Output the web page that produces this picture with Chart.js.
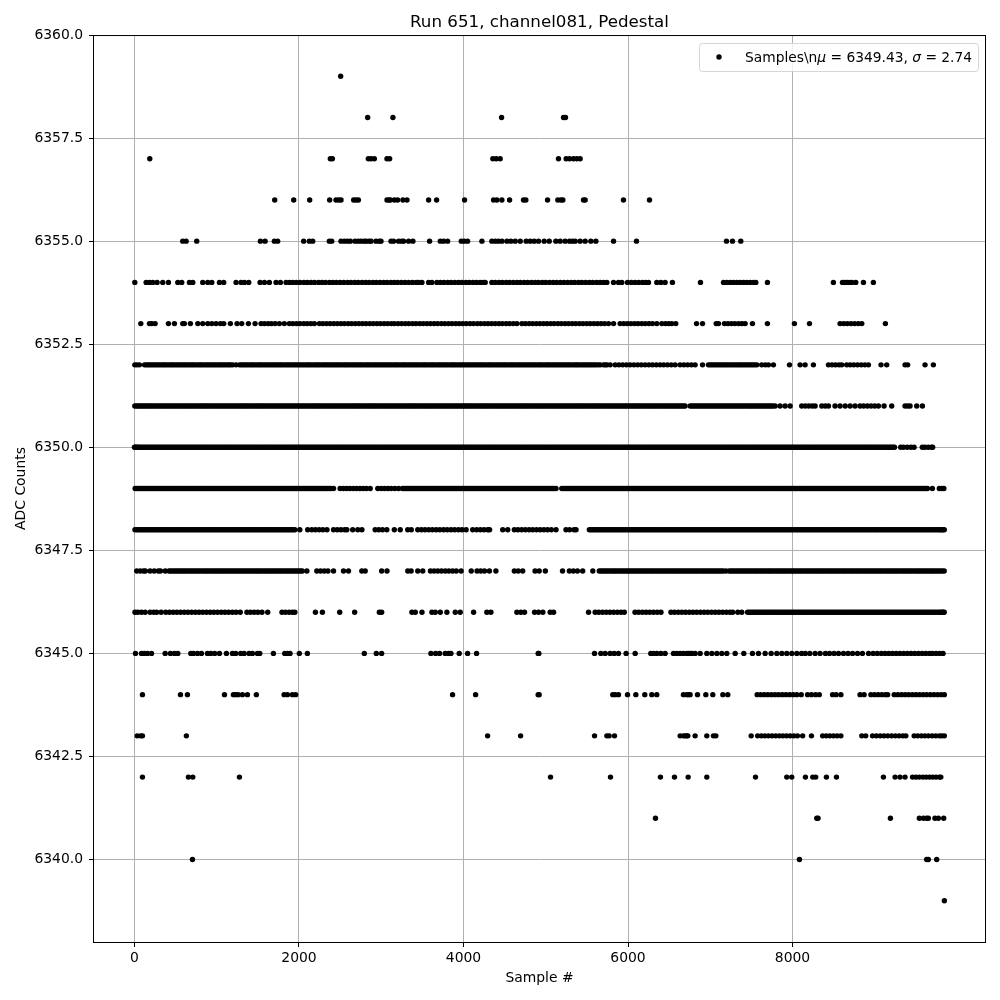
<!DOCTYPE html>
<html>
<head>
<meta charset="utf-8">
<title>Run 651, channel081, Pedestal</title>
<script src="https://cdn.jsdelivr.net/npm/chart.js@4"></script>
<style>
  body { margin: 0; background: #fff; }
  canvas { display: block; }
</style>
</head>
<body>
<canvas id="graphic" width="1000" height="1000"></canvas>
<script>
const xTicks = [0, 2000, 4000, 6000, 8000];
const yTicks = [6340, 6342.5, 6345, 6347.5, 6350, 6352.5, 6355, 6357.5, 6360];

// sample numbers, one list per ADC level
// single marks are read one by one, solid stretches are only estimated to cover them
const adc6359 = [2507];
const adc6358 = [2835, 3142, 4463, 5216, 5240];
const adc6357 = [186, 2381, 2406, 2843, 2876, 2916, 3070, 3102, 4357, 4398, 4446, 5155, 5248, 5289, 5337, 5378, 5418];
const adc6356 = [1705, 1936, 2130, 2373, 2450, 2483, 2511, 2665, 2693, 2722, 3070, 3094, 3110, 3159, 3199, 3264, 3313, 3576, 3673, 4013, 4366, 4406, 4467, 4560, 4730, 4758, 5022, 5147, 5184, 5208, 5459, 5479, 5945, 6261];
const adc6355 = [587, 628, 757, 1531, 1588, 1701, 1741, 2057, 2126, 2167, 2369, 2398, 2511, 2552, 2590, 2624, 2681, 2720, 2754, 2790, 2815, 2850, 2876, 2936, 2975, 2997, 3119, 3150, 3211, 3250, 3272, 3333, 3385, 3588, 3718, 3758, 3807, 3973, 4009, 4050, 4224, 4345, 4386, 4426, 4467, 4528, 4576, 4629, 4690, 4762, 4811, 4860, 4912, 4981, 5042, 5123, 5176, 5236, 5289, 5325, 5358, 5418, 5479, 5548, 5609, 5824, 6103, 7197, 7270, 7371];
const adc6354 = [4, 142, 182, 223, 275, 344, 413, 527, 575, 668, 709, 830, 891, 940, 1033, 1085, 1235, 1296, 1337, 1389, 1527, 1580, 1640, 1721, 1774, 1843, 1885, 1925, 1968, 2012, 2060, 2102, 2147, 2190, 2238, 2280, 2322, 2370, 2412, 2455, 2500, 2544, 2590, 2632, 2678, 2720, 2766, 2810, 2852, 2898, 2940, 2985, 3030, 3072, 3118, 3159, 3200, 3245, 3290, 3335, 3380, 3425, 3454, 3495, 3576, 3616, 3677, 3720, 3762, 3808, 3850, 3895, 3940, 3982, 4028, 4070, 4115, 4158, 4202, 4240, 4264, 4345, 4385, 4430, 4472, 4518, 4560, 4605, 4650, 4692, 4738, 4780, 4825, 4870, 4912, 4958, 5000, 5045, 5090, 5132, 5178, 5220, 5265, 5310, 5352, 5398, 5440, 5485, 5530, 5572, 5618, 5660, 5702, 5743, 5824, 5884, 5925, 5994, 6040, 6085, 6130, 6175, 6215, 6249, 6350, 6399, 6451, 6540, 6881, 7161, 7201, 7242, 7282, 7323, 7363, 7404, 7444, 7485, 7525, 7554, 7695, 8497, 8607, 8638, 8666, 8695, 8722, 8769, 8862, 8983];
const adc6353 = [77, 182, 211, 251, 413, 486, 587, 607, 680, 770, 830, 891, 940, 992, 1045, 1085, 1166, 1247, 1304, 1385, 1466, 1539, 1580, 1625, 1665, 1710, 1762, 1822, 1883, 1925, 1970, 2012, 2058, 2100, 2145, 2187, 2248, 2290, 2335, 2378, 2422, 2465, 2510, 2552, 2598, 2640, 2685, 2728, 2772, 2815, 2860, 2902, 2948, 2990, 3035, 3078, 3122, 3159, 3205, 3248, 3292, 3335, 3380, 3422, 3468, 3510, 3555, 3598, 3642, 3685, 3730, 3772, 3818, 3860, 3905, 3948, 3992, 4035, 4080, 4122, 4168, 4210, 4255, 4298, 4342, 4385, 4430, 4472, 4518, 4560, 4605, 4649, 4710, 4752, 4798, 4840, 4885, 4928, 4972, 5015, 5060, 5102, 5148, 5190, 5235, 5278, 5322, 5365, 5410, 5452, 5498, 5540, 5585, 5628, 5672, 5715, 5763, 5824, 5904, 5948, 5992, 6035, 6080, 6122, 6168, 6210, 6255, 6298, 6350, 6411, 6455, 6495, 6532, 6581, 6833, 6906, 7072, 7100, 7173, 7215, 7258, 7300, 7345, 7385, 7424, 7513, 7695, 8023, 8206, 8578, 8622, 8665, 8710, 8755, 8800, 8842, 9129];
const adc6352 = [4, 30, 60, 122, 144, 165, 187, 208, 230, 252, 274, 295, 318, 340, 361, 382, 405, 428, 449, 470, 492, 515, 537, 558, 580, 602, 624, 645, 668, 690, 711, 732, 755, 778, 799, 820, 842, 865, 887, 908, 930, 952, 974, 995, 1018, 1040, 1061, 1082, 1105, 1128, 1149, 1170, 1195, 1235, 1278, 1300, 1322, 1344, 1365, 1388, 1410, 1431, 1452, 1475, 1498, 1519, 1540, 1562, 1585, 1607, 1628, 1650, 1672, 1694, 1715, 1738, 1760, 1781, 1802, 1825, 1848, 1869, 1890, 1912, 1935, 1957, 1978, 2000, 2022, 2044, 2065, 2088, 2110, 2131, 2152, 2175, 2198, 2219, 2240, 2262, 2285, 2307, 2328, 2350, 2372, 2394, 2415, 2438, 2460, 2481, 2502, 2525, 2548, 2569, 2590, 2612, 2635, 2657, 2678, 2700, 2722, 2744, 2765, 2788, 2810, 2831, 2852, 2875, 2898, 2919, 2940, 2962, 2985, 3007, 3028, 3050, 3072, 3094, 3115, 3137, 3159, 3180, 3202, 3225, 3248, 3269, 3290, 3312, 3335, 3357, 3378, 3400, 3422, 3444, 3465, 3488, 3510, 3531, 3552, 3575, 3598, 3619, 3640, 3662, 3685, 3707, 3728, 3750, 3772, 3794, 3815, 3838, 3860, 3881, 3902, 3925, 3948, 3969, 3990, 4012, 4035, 4057, 4078, 4100, 4122, 4144, 4165, 4188, 4210, 4231, 4252, 4275, 4298, 4319, 4340, 4362, 4385, 4407, 4428, 4450, 4472, 4494, 4515, 4538, 4560, 4581, 4602, 4625, 4648, 4669, 4690, 4712, 4735, 4757, 4778, 4800, 4822, 4844, 4865, 4888, 4910, 4931, 4952, 4975, 4998, 5019, 5040, 5062, 5085, 5107, 5128, 5150, 5172, 5194, 5215, 5238, 5260, 5281, 5302, 5325, 5348, 5369, 5390, 5412, 5435, 5457, 5478, 5500, 5522, 5544, 5565, 5588, 5610, 5636, 5662, 5702, 5724, 5745, 5783, 5844, 5890, 5936, 5982, 6026, 6072, 6118, 6162, 6208, 6254, 6298, 6344, 6390, 6434, 6480, 6526, 6573, 6633, 6680, 6725, 6770, 6816, 6906, 6978, 7000, 7022, 7045, 7068, 7090, 7112, 7135, 7158, 7180, 7202, 7225, 7248, 7270, 7292, 7315, 7338, 7360, 7382, 7405, 7428, 7450, 7472, 7495, 7518, 7542, 7566, 7626, 7670, 7708, 7768, 7963, 8092, 8153, 8254, 8437, 8480, 8522, 8565, 8598, 8659, 8700, 8745, 8790, 8835, 8880, 8923, 9076, 9145, 9368, 9400, 9611, 9712];
const adc6351 = [4, 28, 48, 68, 88, 108, 129, 150, 171, 192, 213, 235, 256, 278, 299, 320, 341, 362, 383, 405, 426, 448, 469, 490, 511, 532, 553, 575, 596, 618, 639, 660, 681, 702, 723, 745, 766, 788, 809, 830, 851, 872, 893, 915, 936, 958, 979, 1000, 1021, 1042, 1063, 1085, 1106, 1128, 1149, 1170, 1191, 1212, 1233, 1255, 1276, 1298, 1319, 1340, 1361, 1382, 1403, 1425, 1446, 1468, 1489, 1510, 1531, 1552, 1573, 1595, 1616, 1638, 1659, 1680, 1701, 1722, 1743, 1765, 1786, 1808, 1829, 1850, 1871, 1892, 1913, 1935, 1956, 1978, 1999, 2020, 2041, 2062, 2083, 2105, 2126, 2148, 2169, 2190, 2211, 2232, 2253, 2275, 2296, 2318, 2339, 2360, 2381, 2402, 2423, 2445, 2466, 2488, 2509, 2530, 2551, 2572, 2593, 2615, 2636, 2658, 2679, 2700, 2721, 2742, 2763, 2785, 2806, 2828, 2849, 2870, 2891, 2912, 2933, 2955, 2976, 2998, 3019, 3040, 3061, 3082, 3103, 3125, 3146, 3168, 3189, 3210, 3231, 3252, 3273, 3295, 3316, 3338, 3359, 3380, 3401, 3422, 3443, 3465, 3486, 3508, 3529, 3550, 3571, 3592, 3613, 3635, 3656, 3678, 3699, 3720, 3741, 3762, 3783, 3805, 3826, 3848, 3869, 3890, 3911, 3932, 3953, 3975, 3996, 4018, 4039, 4060, 4081, 4102, 4123, 4145, 4166, 4188, 4209, 4230, 4251, 4272, 4293, 4315, 4336, 4358, 4379, 4400, 4421, 4442, 4463, 4485, 4506, 4528, 4549, 4570, 4591, 4612, 4633, 4655, 4676, 4698, 4719, 4740, 4761, 4782, 4803, 4825, 4846, 4868, 4889, 4910, 4931, 4952, 4973, 4995, 5016, 5038, 5059, 5080, 5101, 5122, 5143, 5165, 5186, 5208, 5229, 5250, 5271, 5292, 5313, 5335, 5356, 5378, 5399, 5420, 5441, 5462, 5483, 5505, 5526, 5548, 5569, 5590, 5611, 5632, 5653, 5675, 5696, 5718, 5739, 5760, 5781, 5802, 5823, 5845, 5866, 5888, 5909, 5930, 5951, 5972, 5993, 6015, 6036, 6058, 6079, 6100, 6121, 6142, 6163, 6185, 6206, 6228, 6249, 6270, 6291, 6312, 6333, 6355, 6376, 6398, 6419, 6440, 6461, 6482, 6503, 6525, 6546, 6568, 6589, 6610, 6631, 6652, 6673, 6694, 6756, 6778, 6800, 6822, 6845, 6866, 6888, 6910, 6932, 6953, 6975, 6997, 7020, 7041, 7062, 7085, 7108, 7129, 7150, 7172, 7195, 7216, 7238, 7260, 7282, 7303, 7325, 7347, 7370, 7391, 7412, 7435, 7458, 7479, 7500, 7522, 7545, 7566, 7588, 7610, 7632, 7653, 7675, 7697, 7720, 7741, 7762, 7789, 7849, 7910, 7971, 8112, 8155, 8198, 8240, 8275, 8356, 8398, 8437, 8517, 8578, 8640, 8700, 8760, 8821, 8865, 8910, 8955, 9000, 9044, 9113, 9206, 9368, 9400, 9429, 9510, 9579];
const adc6350 = [0, 10, 20, 34, 48, 66, 85, 103, 122, 141, 160, 179, 198, 217, 236, 255, 274, 293, 312, 331, 350, 369, 388, 407, 426, 445, 464, 483, 502, 521, 540, 559, 578, 597, 616, 635, 654, 673, 692, 711, 730, 749, 768, 787, 806, 825, 844, 863, 882, 901, 920, 939, 958, 977, 996, 1015, 1034, 1053, 1072, 1091, 1110, 1129, 1148, 1167, 1186, 1205, 1224, 1243, 1262, 1281, 1300, 1319, 1338, 1357, 1376, 1395, 1414, 1433, 1452, 1471, 1490, 1509, 1528, 1547, 1566, 1585, 1604, 1623, 1642, 1661, 1680, 1699, 1718, 1737, 1756, 1775, 1794, 1813, 1832, 1851, 1870, 1889, 1908, 1927, 1946, 1965, 1984, 2003, 2022, 2041, 2060, 2079, 2098, 2117, 2136, 2155, 2174, 2193, 2212, 2231, 2250, 2269, 2288, 2307, 2326, 2345, 2364, 2383, 2402, 2421, 2440, 2459, 2478, 2497, 2516, 2535, 2554, 2573, 2592, 2611, 2630, 2649, 2668, 2687, 2706, 2725, 2744, 2763, 2782, 2801, 2820, 2839, 2858, 2877, 2896, 2915, 2934, 2953, 2972, 2991, 3010, 3029, 3048, 3067, 3086, 3105, 3124, 3143, 3162, 3181, 3200, 3219, 3238, 3257, 3276, 3295, 3314, 3333, 3352, 3371, 3390, 3409, 3428, 3447, 3466, 3485, 3504, 3523, 3542, 3561, 3580, 3599, 3618, 3637, 3656, 3675, 3694, 3713, 3732, 3751, 3770, 3789, 3808, 3827, 3846, 3865, 3884, 3903, 3922, 3941, 3960, 3979, 3998, 4017, 4036, 4055, 4074, 4093, 4112, 4131, 4150, 4169, 4188, 4207, 4226, 4245, 4264, 4283, 4302, 4321, 4340, 4359, 4378, 4397, 4416, 4435, 4454, 4473, 4492, 4511, 4530, 4549, 4568, 4587, 4606, 4625, 4644, 4663, 4682, 4701, 4720, 4739, 4758, 4777, 4796, 4815, 4834, 4853, 4872, 4891, 4910, 4929, 4948, 4967, 4986, 5005, 5024, 5043, 5062, 5081, 5100, 5119, 5138, 5157, 5176, 5195, 5214, 5233, 5252, 5271, 5290, 5309, 5328, 5347, 5366, 5385, 5404, 5423, 5442, 5461, 5480, 5499, 5518, 5537, 5556, 5575, 5594, 5613, 5632, 5651, 5670, 5689, 5708, 5727, 5746, 5765, 5784, 5803, 5822, 5841, 5860, 5879, 5898, 5917, 5936, 5955, 5974, 5993, 6012, 6031, 6050, 6069, 6088, 6107, 6126, 6145, 6164, 6183, 6202, 6221, 6240, 6259, 6278, 6297, 6316, 6335, 6354, 6373, 6392, 6411, 6430, 6449, 6468, 6487, 6506, 6525, 6544, 6563, 6582, 6601, 6620, 6639, 6658, 6677, 6696, 6715, 6734, 6753, 6772, 6791, 6810, 6829, 6848, 6867, 6886, 6905, 6924, 6943, 6962, 6981, 7000, 7019, 7038, 7057, 7076, 7095, 7114, 7133, 7152, 7171, 7190, 7209, 7228, 7247, 7266, 7285, 7304, 7323, 7342, 7361, 7380, 7399, 7418, 7437, 7456, 7475, 7494, 7513, 7532, 7551, 7570, 7589, 7608, 7627, 7646, 7665, 7684, 7703, 7722, 7741, 7760, 7779, 7798, 7817, 7836, 7855, 7874, 7893, 7912, 7931, 7950, 7969, 7988, 8007, 8026, 8045, 8064, 8083, 8102, 8121, 8140, 8159, 8178, 8197, 8216, 8235, 8254, 8273, 8292, 8311, 8330, 8349, 8368, 8387, 8406, 8425, 8444, 8463, 8482, 8501, 8520, 8539, 8558, 8577, 8596, 8615, 8634, 8653, 8672, 8691, 8710, 8729, 8748, 8767, 8786, 8805, 8824, 8843, 8862, 8881, 8900, 8919, 8938, 8957, 8976, 8995, 9014, 9033, 9052, 9071, 9090, 9109, 9128, 9147, 9166, 9185, 9204, 9222, 9240, 9315, 9350, 9395, 9440, 9478, 9578, 9610, 9650, 9690, 9704];
const adc6349 = [8, 30, 50, 70, 90, 110, 130, 150, 170, 190, 210, 230, 250, 270, 290, 310, 330, 350, 370, 390, 410, 430, 450, 470, 490, 510, 530, 550, 570, 590, 610, 630, 650, 670, 690, 710, 730, 750, 770, 790, 810, 830, 850, 870, 890, 910, 930, 950, 970, 990, 1010, 1030, 1050, 1070, 1090, 1110, 1130, 1150, 1170, 1190, 1210, 1230, 1250, 1270, 1290, 1310, 1330, 1350, 1370, 1390, 1410, 1430, 1450, 1470, 1490, 1510, 1530, 1550, 1570, 1590, 1610, 1630, 1650, 1670, 1690, 1710, 1730, 1750, 1770, 1790, 1810, 1830, 1850, 1870, 1890, 1910, 1930, 1950, 1970, 1990, 2010, 2030, 2050, 2070, 2090, 2110, 2130, 2150, 2170, 2190, 2210, 2230, 2250, 2270, 2290, 2310, 2330, 2350, 2370, 2390, 2420, 2500, 2540, 2580, 2620, 2660, 2700, 2740, 2780, 2820, 2866, 2958, 3000, 3040, 3080, 3120, 3165, 3211, 3260, 3280, 3300, 3320, 3340, 3360, 3380, 3400, 3420, 3440, 3460, 3480, 3500, 3520, 3540, 3560, 3580, 3600, 3620, 3640, 3660, 3680, 3700, 3720, 3740, 3760, 3780, 3800, 3820, 3840, 3860, 3880, 3900, 3920, 3940, 3960, 3980, 4000, 4020, 4040, 4060, 4080, 4100, 4120, 4140, 4160, 4180, 4200, 4220, 4240, 4260, 4280, 4300, 4320, 4340, 4360, 4380, 4400, 4420, 4440, 4460, 4480, 4500, 4520, 4540, 4560, 4580, 4600, 4620, 4640, 4660, 4680, 4700, 4720, 4740, 4760, 4780, 4800, 4820, 4840, 4860, 4880, 4900, 4920, 4940, 4960, 4980, 5000, 5020, 5040, 5060, 5080, 5100, 5125, 5195, 5220, 5240, 5260, 5280, 5300, 5320, 5340, 5360, 5380, 5400, 5420, 5440, 5460, 5480, 5500, 5520, 5540, 5560, 5580, 5600, 5620, 5640, 5660, 5680, 5700, 5720, 5740, 5760, 5780, 5800, 5820, 5840, 5860, 5880, 5900, 5920, 5940, 5960, 5980, 6000, 6020, 6040, 6060, 6080, 6100, 6120, 6140, 6160, 6180, 6200, 6220, 6240, 6260, 6280, 6300, 6320, 6340, 6360, 6380, 6400, 6420, 6440, 6460, 6480, 6500, 6520, 6540, 6560, 6580, 6600, 6620, 6640, 6660, 6680, 6700, 6720, 6740, 6760, 6780, 6800, 6820, 6840, 6860, 6880, 6900, 6920, 6940, 6960, 6980, 7000, 7020, 7040, 7060, 7080, 7100, 7120, 7140, 7160, 7180, 7200, 7220, 7240, 7260, 7280, 7300, 7320, 7340, 7360, 7380, 7400, 7420, 7440, 7460, 7480, 7500, 7520, 7540, 7560, 7580, 7600, 7620, 7640, 7660, 7680, 7700, 7720, 7740, 7760, 7780, 7800, 7820, 7840, 7860, 7880, 7900, 7920, 7940, 7960, 7980, 8000, 8020, 8040, 8060, 8080, 8100, 8120, 8140, 8160, 8180, 8200, 8220, 8240, 8260, 8280, 8300, 8320, 8340, 8360, 8380, 8400, 8420, 8440, 8460, 8480, 8500, 8520, 8540, 8560, 8580, 8600, 8620, 8640, 8660, 8680, 8700, 8720, 8740, 8760, 8780, 8800, 8820, 8840, 8860, 8880, 8900, 8920, 8940, 8960, 8980, 9000, 9020, 9040, 9060, 9080, 9100, 9120, 9140, 9160, 9180, 9200, 9220, 9240, 9260, 9280, 9300, 9320, 9340, 9360, 9380, 9400, 9420, 9440, 9460, 9480, 9500, 9520, 9540, 9560, 9580, 9600, 9620, 9640, 9700, 9785, 9815, 9840];
const adc6348 = [6, 30, 50, 70, 90, 110, 130, 150, 170, 190, 210, 230, 250, 270, 290, 310, 330, 350, 370, 390, 410, 430, 450, 470, 490, 510, 530, 550, 570, 590, 610, 630, 650, 670, 690, 710, 730, 750, 770, 790, 810, 830, 850, 870, 890, 910, 930, 950, 970, 990, 1010, 1030, 1050, 1070, 1090, 1110, 1130, 1150, 1170, 1190, 1210, 1230, 1250, 1270, 1290, 1310, 1330, 1350, 1370, 1390, 1410, 1430, 1450, 1470, 1490, 1510, 1530, 1550, 1570, 1590, 1610, 1630, 1650, 1670, 1690, 1710, 1730, 1750, 1770, 1790, 1810, 1830, 1850, 1870, 1890, 1910, 1930, 1950, 2010, 2106, 2156, 2200, 2245, 2290, 2340, 2420, 2465, 2510, 2555, 2582, 2653, 2715, 2765, 2926, 2970, 3015, 3068, 3159, 3231, 3322, 3365, 3444, 3488, 3532, 3578, 3622, 3668, 3712, 3758, 3802, 3848, 3892, 3938, 3982, 4032, 4112, 4160, 4205, 4250, 4295, 4317, 4477, 4538, 4618, 4662, 4708, 4752, 4798, 4842, 4888, 4932, 4978, 5022, 5068, 5125, 5246, 5290, 5345, 5368, 5530, 5551, 5572, 5594, 5615, 5636, 5658, 5679, 5700, 5721, 5742, 5764, 5785, 5806, 5828, 5849, 5870, 5891, 5912, 5934, 5955, 5976, 5998, 6019, 6040, 6061, 6082, 6104, 6125, 6146, 6168, 6189, 6210, 6231, 6252, 6274, 6295, 6316, 6338, 6359, 6380, 6401, 6422, 6444, 6465, 6486, 6508, 6529, 6550, 6571, 6592, 6614, 6635, 6656, 6678, 6699, 6720, 6741, 6762, 6784, 6805, 6826, 6848, 6869, 6890, 6911, 6932, 6954, 6975, 6996, 7018, 7039, 7060, 7081, 7102, 7124, 7145, 7166, 7188, 7209, 7230, 7251, 7272, 7294, 7315, 7336, 7358, 7379, 7400, 7421, 7442, 7464, 7485, 7506, 7528, 7549, 7570, 7591, 7612, 7634, 7655, 7676, 7698, 7719, 7740, 7761, 7782, 7804, 7825, 7846, 7868, 7889, 7910, 7931, 7952, 7974, 7995, 8016, 8038, 8059, 8080, 8101, 8122, 8144, 8165, 8186, 8208, 8229, 8250, 8271, 8292, 8314, 8335, 8356, 8378, 8399, 8420, 8441, 8462, 8484, 8505, 8526, 8548, 8569, 8590, 8611, 8632, 8654, 8675, 8696, 8718, 8739, 8760, 8781, 8802, 8824, 8845, 8866, 8888, 8909, 8930, 8951, 8972, 8994, 9015, 9036, 9058, 9079, 9100, 9121, 9142, 9164, 9185, 9206, 9228, 9249, 9270, 9291, 9312, 9334, 9355, 9376, 9398, 9419, 9440, 9461, 9482, 9504, 9525, 9546, 9568, 9589, 9610, 9631, 9652, 9674, 9695, 9716, 9738, 9759, 9780, 9796, 9812, 9828, 9845];
const adc6347 = [28, 70, 110, 132, 190, 240, 290, 316, 374, 420, 442, 465, 488, 510, 532, 555, 578, 600, 622, 645, 668, 690, 712, 735, 758, 780, 802, 825, 848, 870, 892, 915, 938, 960, 982, 1005, 1028, 1050, 1072, 1095, 1118, 1140, 1162, 1185, 1208, 1230, 1252, 1275, 1298, 1320, 1342, 1365, 1388, 1410, 1432, 1455, 1478, 1500, 1522, 1545, 1568, 1590, 1612, 1635, 1658, 1680, 1702, 1725, 1748, 1770, 1792, 1815, 1838, 1860, 1882, 1905, 1928, 1950, 1972, 1995, 2018, 2040, 2096, 2217, 2262, 2307, 2352, 2420, 2541, 2602, 2764, 2805, 3005, 3070, 3323, 3363, 3444, 3505, 3598, 3642, 3688, 3732, 3778, 3822, 3868, 3912, 3971, 4094, 4165, 4210, 4255, 4315, 4394, 4618, 4665, 4720, 4870, 4920, 4995, 5204, 5287, 5335, 5385, 5449, 5572, 5651, 5673, 5695, 5718, 5740, 5762, 5785, 5808, 5830, 5852, 5875, 5898, 5920, 5942, 5965, 5988, 6010, 6032, 6055, 6078, 6100, 6122, 6145, 6168, 6190, 6212, 6235, 6258, 6280, 6302, 6325, 6348, 6370, 6392, 6415, 6438, 6460, 6482, 6505, 6528, 6550, 6572, 6595, 6618, 6640, 6662, 6685, 6708, 6730, 6752, 6775, 6798, 6820, 6842, 6865, 6888, 6910, 6932, 6955, 6978, 7000, 7022, 7045, 7068, 7090, 7112, 7135, 7158, 7191, 7231, 7254, 7276, 7298, 7321, 7344, 7366, 7388, 7411, 7434, 7456, 7478, 7501, 7524, 7546, 7568, 7591, 7614, 7636, 7658, 7681, 7704, 7726, 7748, 7771, 7794, 7816, 7838, 7861, 7884, 7906, 7928, 7951, 7974, 7996, 8018, 8041, 8064, 8086, 8108, 8131, 8154, 8176, 8198, 8221, 8244, 8266, 8288, 8311, 8334, 8356, 8378, 8401, 8424, 8446, 8468, 8491, 8514, 8536, 8558, 8581, 8604, 8626, 8648, 8671, 8694, 8716, 8738, 8761, 8784, 8806, 8828, 8851, 8874, 8896, 8918, 8941, 8964, 8986, 9008, 9031, 9054, 9076, 9098, 9121, 9144, 9166, 9188, 9211, 9234, 9256, 9278, 9301, 9324, 9346, 9368, 9391, 9414, 9436, 9458, 9481, 9504, 9526, 9548, 9571, 9594, 9616, 9638, 9661, 9684, 9706, 9728, 9751, 9774, 9796, 9820, 9844];
const adc6346 = [6, 40, 85, 130, 190, 235, 270, 324, 380, 425, 470, 515, 560, 605, 650, 695, 740, 785, 830, 875, 920, 965, 1010, 1055, 1100, 1145, 1190, 1235, 1286, 1367, 1410, 1455, 1500, 1550, 1620, 1793, 1835, 1880, 1920, 1950, 2200, 2285, 2495, 2677, 2977, 3005, 3373, 3414, 3495, 3616, 3657, 3718, 3798, 3900, 3960, 4123, 4284, 4333, 4649, 4698, 4742, 4864, 4912, 4965, 5054, 5095, 5520, 5601, 5645, 5690, 5735, 5780, 5825, 5870, 5915, 5955, 6085, 6130, 6175, 6220, 6265, 6310, 6355, 6401, 6522, 6565, 6610, 6655, 6700, 6745, 6790, 6835, 6880, 6925, 6970, 7015, 7060, 7105, 7150, 7195, 7240, 7272, 7335, 7383, 7454, 7476, 7498, 7520, 7542, 7564, 7586, 7608, 7630, 7652, 7674, 7696, 7718, 7740, 7762, 7784, 7806, 7828, 7850, 7872, 7894, 7916, 7938, 7960, 7982, 8004, 8026, 8048, 8070, 8092, 8114, 8136, 8158, 8180, 8202, 8224, 8246, 8268, 8290, 8312, 8334, 8356, 8378, 8400, 8422, 8444, 8466, 8488, 8510, 8532, 8554, 8576, 8598, 8620, 8642, 8664, 8686, 8708, 8730, 8752, 8774, 8796, 8818, 8840, 8862, 8884, 8906, 8928, 8950, 8972, 8994, 9016, 9038, 9060, 9082, 9104, 9126, 9148, 9170, 9192, 9214, 9236, 9258, 9280, 9302, 9324, 9346, 9368, 9390, 9412, 9434, 9456, 9478, 9500, 9522, 9544, 9566, 9588, 9610, 9632, 9654, 9676, 9698, 9720, 9742, 9764, 9786, 9803, 9820, 9832, 9844];
const adc6345 = [12, 85, 118, 158, 207, 373, 437, 486, 527, 685, 717, 766, 814, 887, 928, 976, 1033, 1118, 1191, 1231, 1292, 1333, 1393, 1434, 1495, 1523, 1689, 1827, 1859, 1891, 2004, 2102, 2794, 2940, 3005, 3604, 3661, 3709, 3778, 3819, 3847, 3948, 4050, 4159, 4908, 4916, 5593, 5670, 5723, 5783, 5832, 5884, 5977, 6087, 6277, 6310, 6350, 6399, 6451, 6553, 6593, 6634, 6674, 6715, 6755, 6735, 6776, 6816, 6877, 6958, 7019, 7080, 7140, 7201, 7303, 7408, 7513, 7586, 7667, 7740, 7809, 7870, 7930, 7991, 8052, 8110, 8155, 8210, 8275, 8335, 8400, 8450, 8505, 8560, 8620, 8675, 8730, 8790, 8850, 8925, 8980, 9030, 9080, 9125, 9170, 9215, 9260, 9305, 9350, 9395, 9440, 9485, 9530, 9575, 9620, 9665, 9700, 9745, 9790, 9830];
const adc6344 = [97, 559, 644, 1094, 1203, 1231, 1260, 1312, 1373, 1482, 1819, 1859, 1920, 1960, 3867, 4147, 4908, 4920, 5815, 5844, 5884, 5994, 6095, 6204, 6289, 6350, 6674, 6715, 6755, 6735, 6845, 6946, 7031, 7153, 7213, 7570, 7612, 7656, 7700, 7744, 7788, 7832, 7876, 7920, 7964, 8008, 8052, 8106, 8183, 8230, 8280, 8325, 8487, 8530, 8588, 8821, 8870, 8953, 8998, 9042, 9086, 9130, 9156, 9236, 9280, 9324, 9368, 9412, 9456, 9500, 9544, 9588, 9632, 9676, 9720, 9764, 9808, 9846];
const adc6343 = [33, 77, 97, 631, 4293, 4694, 5593, 5743, 5771, 5836, 6634, 6674, 6715, 6695, 6727, 6816, 6958, 7039, 7068, 7497, 7576, 7620, 7664, 7708, 7752, 7796, 7840, 7884, 7928, 7972, 8016, 8060, 8123, 8230, 8366, 8410, 8454, 8498, 8542, 8588, 8842, 8890, 8973, 9020, 9066, 9112, 9158, 9204, 9250, 9296, 9342, 9378, 9479, 9522, 9566, 9610, 9654, 9698, 9742, 9786, 9815, 9846];
const adc6342 = [97, 656, 709, 1276, 5058, 5787, 6394, 6565, 6731, 6958, 7550, 7930, 7991, 8157, 8246, 8282, 8412, 8534, 9105, 9247, 9307, 9368, 9459, 9500, 9540, 9585, 9625, 9665, 9705, 9745, 9785, 9803];
const adc6341 = [6334, 8295, 8310, 9190, 9542, 9591, 9631, 9651, 9732, 9773, 9838];
const adc6340 = [705, 8084, 9631, 9651, 9753];
const adc6339 = [9846];

const levels = [6339, 6340, 6341, 6342, 6343, 6344, 6345, 6346, 6347, 6348, 6349, 6350, 6351, 6352, 6353, 6354, 6355, 6356, 6357, 6358, 6359];
const samples = [adc6339, adc6340, adc6341, adc6342, adc6343, adc6344, adc6345, adc6346, adc6347, adc6348, adc6349, adc6350, adc6351, adc6352, adc6353, adc6354, adc6355, adc6356, adc6357, adc6358, adc6359];

const points = [];
levels.forEach((level, i) => {
  samples[i].forEach((s) => points.push({ x: s, y: level }));
});

// spines on all four sides plus the matplotlib style legend box
const frame = {
  id: "frame",
  afterDraw(chart) {
    const { ctx, chartArea: a } = chart;
    ctx.save();
    ctx.strokeStyle = "#000";
    ctx.lineWidth = 1;
    ctx.strokeRect(a.left - 0.5, a.top + 0.5, a.right - a.left + 1, a.bottom - a.top);

    ctx.globalAlpha = 0.8;
    ctx.fillStyle = "#fff";
    ctx.strokeStyle = "#ccc";
    ctx.beginPath();
    ctx.roundRect(699.5, 43.5, 279, 28, 3);
    ctx.fill();
    ctx.stroke();
    ctx.globalAlpha = 1;

    ctx.fillStyle = "#000";
    ctx.beginPath();
    ctx.arc(719, 57, 2.7, 0, Math.PI * 2);
    ctx.fill();

    ctx.textBaseline = "alphabetic";
    const runs = [
      ["Samples\\n", ""],
      ["\u03bc", "italic "],
      [" = 6349.43, ", ""],
      ["\u03c3", "italic "],
      [" = 2.74", ""],
    ];
    let tx = 745;
    runs.forEach(([text, style]) => {
      ctx.font = style + "13.8px 'DejaVu Sans'";
      ctx.fillText(text, tx, 62);
      tx += ctx.measureText(text).width;
    });
    ctx.restore();
  },
};

new Chart(document.getElementById("graphic"), {
  type: "scatter",
  data: {
    datasets: [
      {
        label: "Samples",
        data: points,
        backgroundColor: "#000",
        borderWidth: 0,
        pointRadius: 2.7,
      },
    ],
  },
  plugins: [frame],
  options: {
    responsive: false,
    animation: false,
    layout: { padding: { left: 0, right: 15, top: 0, bottom: 0 } },
    plugins: {
      legend: { display: false },
      tooltip: { enabled: false },
      title: {
        display: true,
        fullSize: false,
        text: "Run 651, channel081, Pedestal",
        color: "#000",
        font: { family: "DejaVu Sans", size: 16.7, weight: "normal" },
        padding: { top: 13, bottom: 2 },
      },
    },
    scales: {
      x: {
        type: "linear",
        min: -492,
        max: 10340,
        afterBuildTicks: (scale) => { scale.ticks = xTicks.map((v) => ({ value: v })); },
        afterFit: (scale) => { scale.height = 58; },
        ticks: {
          color: "#000",
          font: { family: "DejaVu Sans", size: 13.9 },
          maxRotation: 0,
          autoSkip: false,
          padding: 3,
          callback: (v) => String(v),
        },
        grid: { color: "#b0b0b0", lineWidth: 1, tickColor: "#000", tickLength: 5 },
        border: { display: false },
        title: {
          display: true,
          text: "Sample #",
          color: "#000",
          font: { family: "DejaVu Sans", size: 13.9 },
          padding: { top: 4, bottom: 13 },
        },
      },
      y: {
        type: "linear",
        min: 6338,
        max: 6360,
        afterBuildTicks: (scale) => { scale.ticks = yTicks.map((v) => ({ value: v })); },
        afterFit: (scale) => { scale.width = 94; },
        ticks: {
          color: "#000",
          font: { family: "DejaVu Sans", size: 13.9 },
          autoSkip: false,
          padding: 6,
          callback: (v) => v.toFixed(1),
        },
        grid: { color: "#b0b0b0", lineWidth: 1, tickColor: "#000", tickLength: 5 },
        border: { display: false },
        title: {
          display: true,
          text: "ADC Counts",
          color: "#000",
          font: { family: "DejaVu Sans", size: 13.9 },
          padding: { top: 13, bottom: 4 },
        },
      },
    },
  },
});
</script>
</body>
</html>
